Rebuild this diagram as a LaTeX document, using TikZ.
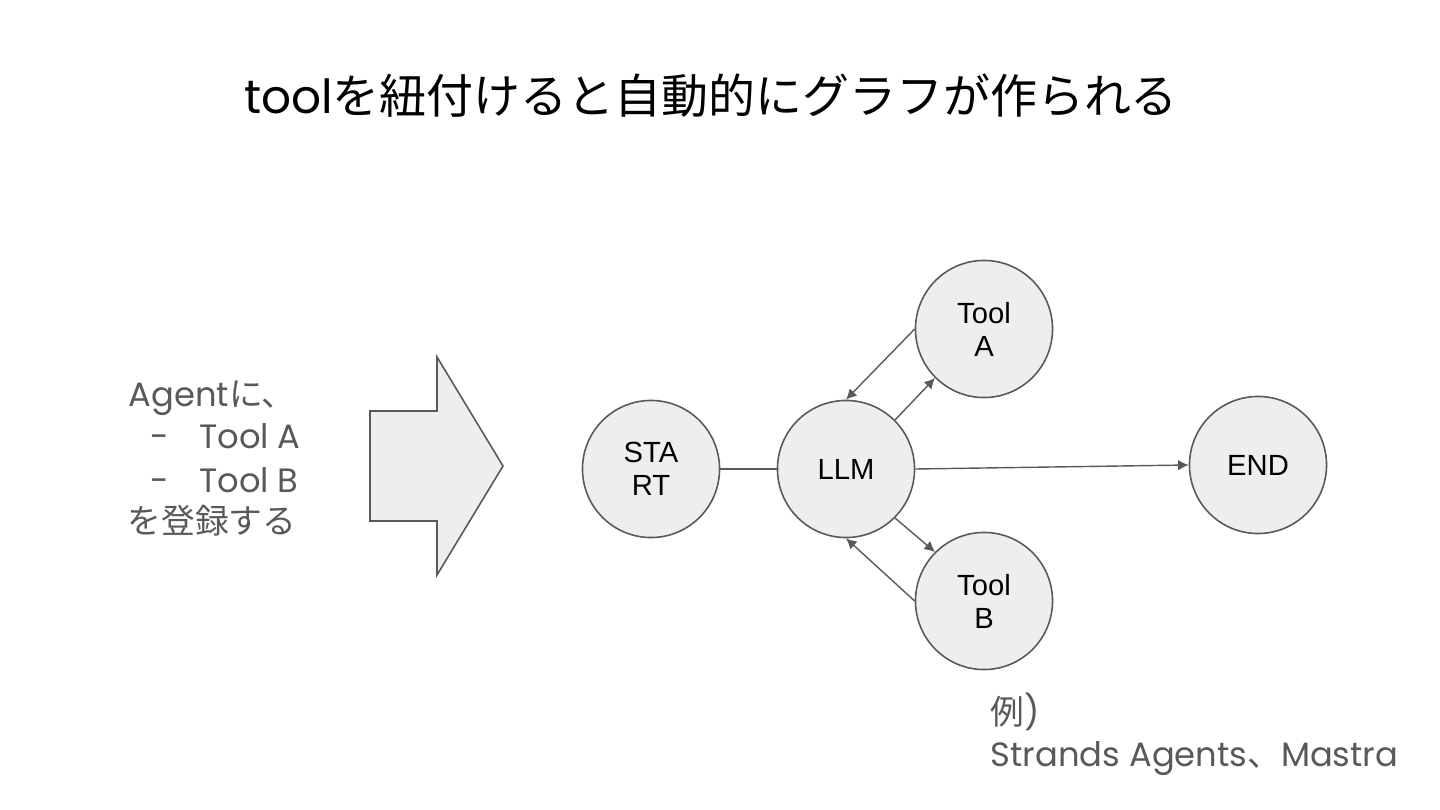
\documentclass[tikz,border=0pt]{standalone}
\usepackage{fontspec}
\setmainfont{Poppins}
\newfontfamily\jp{Noto Sans CJK JP}
\newfontfamily\nodefont{Liberation Sans}
\usetikzlibrary{arrows.meta}
\definecolor{txtgray}{HTML}{595959}
\definecolor{linegray}{HTML}{595959}
\definecolor{fillgray}{HTML}{EEEEEE}
\begin{document}
\begin{tikzpicture}[x=0.01cm,y=-0.01cm,
  state/.style={circle,draw=linegray,fill=fillgray,line width=0.45pt,minimum size=1.37cm,inner sep=0pt,align=center,font=\nodefont\fontsize{8.3}{9.4}\selectfont},
  edge/.style={draw=linegray,line width=0.4pt,-{Latex[length=3pt,width=3pt]}},
  side/.style={anchor=base west,align=left,text=txtgray,inner sep=0pt,font=\fontsize{9.6}{12}\selectfont}]
\useasboundingbox (0,0) rectangle (1440,810);
% title
\node (title) [anchor=base,inner sep=0pt,font=\fontsize{13.35}{15}\selectfont] at (711,114) {tool{\jp を紐付けると自動的にグラフが作られる}};
% left text
\node (agent) [side] at (128,407) {Agent{\jp に、}};
\node (toola) [side] at (150,449) {-\hspace{8.5pt}Tool A};
\node (toolb) [side] at (150,492) {-\hspace{8.5pt}Tool B};
\node (reg) [side] at (127,534) {\jp を登録する};
% big arrow
\draw[linegray,fill=fillgray,line width=0.45pt] (370,411) -- (437,411) -- (437,357) -- (503,466)
  -- (437,575) -- (437,521) -- (370,521) -- cycle;
% graph
\node (start) [state] at (651,469) {STA\\RT};
\node (llm) [state] at (846,469) {LLM};
\node (ta) [state] at (984,329) {Tool\\A};
\node (tb) [state] at (984,601) {Tool\\B};
\node (end) [state] at (1258,465) {END};
\draw[linegray,line width=0.4pt] (start) -- (llm);
\draw[edge] (llm.45) -- (ta.225);
\draw[edge] (ta.west) -- (llm.north);
\draw[edge] (llm.-45) -- (tb.135);
\draw[edge] (tb.west) -- (llm.south);
\draw[edge] (llm.east) -- (end.west);
% example
\node (rei) [side] at (990,724) {{\jp 例}) };
\node (fw) [side] at (990,766) {Strands Agents{\jp 、}Mastra};
\end{tikzpicture}
\end{document}
